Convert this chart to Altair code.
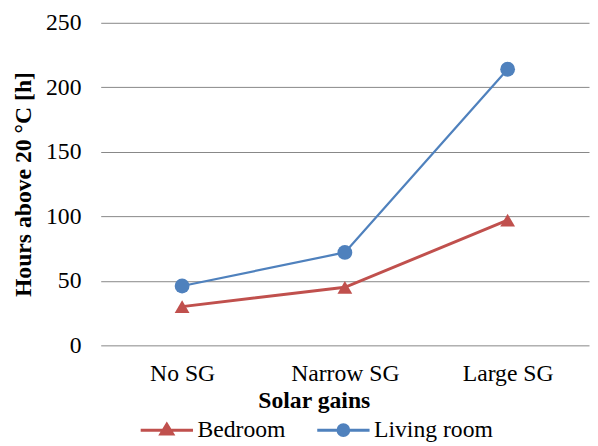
import altair as alt
import pandas as pd

categories = ["No SG", "Narrow SG", "Large SG"]
series_names = ["Bedroom", "Living room"]
bedroom = [30, 45, 97]
living_room = [46, 72, 214]
y_ticks = [0, 50, 100, 150, 200, 250]

colors = ["#C0504D", "#4F81BD"]
FONT = "Liberation Serif"

rows = []
for c, v in zip(categories, bedroom):
    rows.append({"category": c, "value": v, "series": "Bedroom"})
for c, v in zip(categories, living_room):
    rows.append({"category": c, "value": v, "series": "Living room"})
df = pd.DataFrame(rows)

x_enc = alt.X(
    "category:N",
    sort=categories,
    scale=alt.Scale(type="point", padding=0.5, domain=categories),
    title="Solar gains",
    axis=alt.Axis(
        domain=False, ticks=False, tickSize=0, grid=False,
        labelFont=FONT, labelFontSize=24, labelColor="#000000",
        labelBaseline="alphabetic", labelPadding=36, labelAngle=0,
        titleFont=FONT, titleFontSize=24, titleFontWeight="bold", titleColor="#000000",
        titleX=216, titleY=63, titleBaseline="alphabetic", titleAlign="center",
    ),
)
y_enc = alt.Y(
    "value:Q",
    scale=alt.Scale(domain=[0, 250], nice=False),
    title="Hours above 20 °C [h]",
    axis=alt.Axis(
        values=y_ticks, domain=False, ticks=False, tickSize=0,
        grid=True, gridColor="#868686", gridWidth=1,
        labelFont=FONT, labelFontSize=24, labelColor="#000000", labelPadding=20,
        titleFont=FONT, titleFontSize=24, titleFontWeight="bold", titleColor="#000000",
        titlePadding=10,
    ),
)

base = alt.Chart(df).encode(x=x_enc, y=y_enc)

layers = []
widths = [3, 2.25]
shapes = ["triangle-up", "circle"]
for name, col, w, shp in zip(series_names, colors, widths, shapes):
    sub = base.transform_filter(alt.datum.series == name)
    layers.append(sub.mark_line(color=col, strokeWidth=w))
for name, col, w, shp in zip(series_names, colors, widths, shapes):
    sub = base.transform_filter(alt.datum.series == name)
    layers.append(sub.mark_point(filled=True, color=col, shape=shp, size=225, opacity=1))

tri_path = "M-1,0L6.07,0M2.53,-0.8L3.33,0.53L1.73,0.53Z"
circ_path = "M-1,0L6.07,0M3.26,0A0.73,0.73,0,1,1,1.8,0A0.73,0.73,0,1,1,3.26,0Z"

legend = alt.Legend(
    title=None, orient="none", direction="horizontal",
    legendX=36, legendY=401,
    symbolSize=225, symbolStrokeWidth=3, symbolOpacity=1,
    labelFont=FONT, labelFontSize=24, labelColor="#000000",
    labelOffset=38, columnPadding=25,
)

legend_layer = base.transform_filter("false").mark_point(filled=True).encode(
    color=alt.Color("series:N", scale=alt.Scale(domain=series_names, range=colors), legend=legend),
    stroke=alt.Stroke("series:N", scale=alt.Scale(domain=series_names, range=colors), legend=legend),
    shape=alt.Shape("series:N", scale=alt.Scale(domain=series_names, range=[tri_path, circ_path]), legend=legend),
)
layers.append(legend_layer)

chart = alt.layer(*layers).properties(
    width=495, height=327,
    autosize=alt.AutoSizeParams(type="none"),
    padding={"left": 94, "top": 12, "right": 1, "bottom": 97},
    background="white",
).configure_view(stroke=None)

chart.save("out.html", embed_options={"renderer": "svg", "actions": False})
